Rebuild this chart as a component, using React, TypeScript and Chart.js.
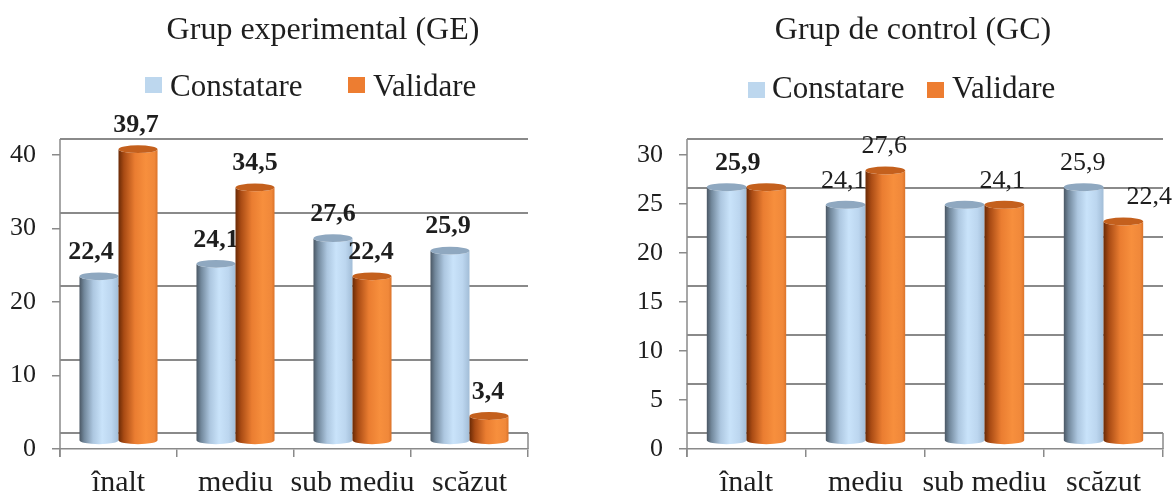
import React, { useEffect, useRef } from 'react';
import { Chart, registerables } from 'chart.js';

Chart.register(...registerables);

// ---------- data ----------
const categories = ['înalt', 'mediu', 'sub mediu', 'scăzut'];
const seriesNames = ['Constatare', 'Validare'];

const geTitle = 'Grup experimental (GE)';
const geConstatare = [22.4, 24.1, 27.6, 25.9];
const geValidare = [39.7, 34.5, 22.4, 3.4];
const geYMax = 40;
const geYStep = 10;

const gcTitle = 'Grup de control (GC)';
const gcConstatare = [25.9, 24.1, 24.1, 25.9];
const gcValidare = [25.9, 27.6, 24.1, 22.4];
const gcYMax = 30;
const gcYStep = 5;

// ---------- styling ----------
const FONT = "'Liberation Serif', 'Times New Roman', serif";
const TEXT = '#1e1e1e';
const GRID = '#8a8a8a';
const LEGEND_COLORS = ['#bdd7ee', '#ed7d31'];

const PALETTES = [
  {
    body: [
      [0, '#4a5764'],
      [0.12, '#72889c'],
      [0.35, '#adc7e0'],
      [0.58, '#c9e3fa'],
      [0.82, '#bcd6ef'],
      [1, '#a2bdd7'],
    ],
    top: '#8fa8c0',
  },
  {
    body: [
      [0, '#6a2a06'],
      [0.14, '#a94b14'],
      [0.42, '#ea7d31'],
      [0.7, '#f78f3d'],
      [0.92, '#f0883a'],
      [1, '#dc742a'],
    ],
    top: '#c4601d',
  },
];

const fmt = (v: number) => v.toFixed(1).replace('.', ',');

// 3D-like cylinders drawn over the library's bar elements
const cylinderPlugin = {
  id: 'cylinders',
  afterDatasetsDraw(chart: any, _args: any, opts: any) {
    const ctx = chart.ctx as CanvasRenderingContext2D;
    const lift = opts.lift;
    chart.data.datasets.forEach((_ds: any, di: number) => {
      const meta = chart.getDatasetMeta(di);
      const pal = PALETTES[di];
      meta.data.forEach((bar: any, i: number) => {
        const { x, y, base, width } = bar.getProps(['x', 'y', 'base', 'width'], true);
        const left = x - width / 2;
        const right = x + width / 2;
        const top = y - lift;
        const bot = base - lift;
        const ry = width * 0.1;
        const g = ctx.createLinearGradient(left, 0, right, 0);
        pal.body.forEach(([s, c]: any) => g.addColorStop(s, c));
        ctx.save();
        ctx.fillStyle = g;
        ctx.beginPath();
        ctx.moveTo(left, top);
        ctx.lineTo(left, bot);
        ctx.ellipse(x, bot, width / 2, ry, 0, Math.PI, 0, true);
        ctx.lineTo(right, top);
        ctx.ellipse(x, top, width / 2, ry, 0, 0, Math.PI, false);
        ctx.closePath();
        ctx.fill();
        // top cap
        ctx.fillStyle = pal.top;
        ctx.beginPath();
        ctx.ellipse(x, top, width / 2, ry, 0, 0, Math.PI * 2);
        ctx.fill();
        ctx.restore();

        // value label
        const lab = opts.labels;
        if (lab.show[di][i]) {
          const v = chart.data.datasets[di].data[i];
          ctx.save();
          ctx.font = `${lab.bold[di][i] ? 'bold ' : ''}26px ${FONT}`;
          ctx.fillStyle = TEXT;
          ctx.textAlign = 'center';
          ctx.textBaseline = 'middle';
          ctx.fillText(fmt(v), x + lab.dx[di][i], top - 24);
          ctx.restore();
        }
      });
    });
  },
};

// back wall gridlines (shifted for the 3D depth) and frame
const wallPlugin = {
  id: 'wall',
  beforeDatasetsDraw(chart: any, _args: any, opts: any) {
    const ctx = chart.ctx as CanvasRenderingContext2D;
    const ys = chart.scales.y;
    const { left, right } = chart.chartArea;
    const depth = opts.depth;
    ctx.save();
    ctx.strokeStyle = GRID;
    ctx.lineWidth = 2;
    ys.ticks.forEach((t: any) => {
      const py = Math.round(ys.getPixelForValue(t.value) - depth);
      ctx.beginPath();
      ctx.moveTo(left, py);
      ctx.lineTo(right, py);
      ctx.stroke();
    });
    const yTop = ys.getPixelForValue(ys.max) - depth;
    const y0 = ys.getPixelForValue(0);
    ctx.lineWidth = 1.5;
    ctx.beginPath();
    ctx.moveTo(left, yTop);
    ctx.lineTo(left, y0 + 8);
    ctx.stroke();
    ctx.beginPath();
    ctx.moveTo(right, y0 - depth);
    ctx.lineTo(right, y0);
    ctx.stroke();
    ctx.restore();
  },
};

// title and legend
const headerPlugin = {
  id: 'header',
  afterDraw(chart: any, _args: any, opts: any) {
    const ctx = chart.ctx as CanvasRenderingContext2D;
    ctx.save();
    ctx.fillStyle = TEXT;
    ctx.font = `32px ${FONT}`;
    ctx.textAlign = 'center';
    ctx.textBaseline = 'alphabetic';
    ctx.fillText(opts.title, opts.titleX, opts.titleY);
    ctx.font = `31px ${FONT}`;
    ctx.textAlign = 'left';
    opts.items.forEach((it: any, k: number) => {
      ctx.fillStyle = LEGEND_COLORS[k];
      ctx.fillRect(it.bx, opts.boxY, 17, 16);
      ctx.fillStyle = TEXT;
      ctx.fillText(seriesNames[k], it.tx, opts.textY);
    });
    ctx.restore();
  },
};

type PanelProps = {
  width: number;
  a: number[];
  b: number[];
  yMax: number;
  yStep: number;
  yWidth: number;
  padRight: number;
  header: any;
  labels: any;
};

function Panel(p: PanelProps) {
  const ref = useRef<HTMLCanvasElement>(null);
  useEffect(() => {
    const chart = new Chart(ref.current as HTMLCanvasElement, {
      type: 'bar',
      data: {
        labels: categories,
        datasets: [
          { label: seriesNames[0], data: p.a, backgroundColor: 'rgba(0,0,0,0)' },
          { label: seriesNames[1], data: p.b, backgroundColor: 'rgba(0,0,0,0)' },
        ],
      },
      options: {
        responsive: false,
        animation: false,
        devicePixelRatio: 1,
        datasets: { bar: { categoryPercentage: 0.667, barPercentage: 1 } },
        layout: { padding: { top: 155, right: p.padRight, left: 0, bottom: 0 } },
        scales: {
          x: {
            afterFit: (s: any) => {
              s.height = 46;
            },
            grid: {
              offset: true,
              drawOnChartArea: false,
              drawTicks: true,
              tickLength: 8,
              color: GRID,
              lineWidth: 1.5,
            },
            border: { display: true, color: GRID, width: 1.5 },
            ticks: {
              font: { family: FONT, size: 30 },
              color: TEXT,
              padding: 8,
              maxRotation: 0,
              autoSkip: false,
            },
          },
          y: {
            min: 0,
            max: p.yMax,
            afterFit: (s: any) => {
              s.width = p.yWidth;
            },
            grid: {
              drawOnChartArea: false,
              drawTicks: true,
              tickLength: 8,
              color: GRID,
              lineWidth: 1.5,
            },
            border: { display: false },
            ticks: {
              stepSize: p.yStep,
              font: { family: FONT, size: 26 },
              color: TEXT,
              padding: 16,
            },
          },
        },
        plugins: {
          legend: { display: false },
          title: { display: false },
          tooltip: { enabled: false },
          cylinders: { lift: 8, labels: p.labels },
          wall: { depth: 16 },
          header: p.header,
        } as any,
      },
      plugins: [wallPlugin, cylinderPlugin, headerPlugin],
    });
    return () => chart.destroy();
  }, []);
  return (
    <canvas
      ref={ref}
      width={p.width}
      height={495}
      style={{ display: 'block', width: p.width, height: 495 }}
    />
  );
}

export default function App() {
  return (
    <div
      style={{
        position: 'absolute',
        left: 0,
        top: 0,
        width: 1172,
        height: 495,
        display: 'flex',
        background: '#ffffff',
        overflow: 'hidden',
      }}
    >
      <Panel
        width={590}
        a={geConstatare}
        b={geValidare}
        yMax={geYMax}
        yStep={geYStep}
        yWidth={60}
        padRight={62}
        header={{
          title: geTitle,
          titleX: 323,
          titleY: 39,
          boxY: 77,
          textY: 96,
          items: [
            { bx: 145, tx: 170 },
            { bx: 348, tx: 373 },
          ],
        }}
        labels={{
          show: [
            [true, true, true, true],
            [true, true, true, true],
          ],
          bold: [
            [true, true, true, true],
            [true, true, true, true],
          ],
          dx: [
            [-8, 0, 0, -2],
            [-2, 0, -1, -1],
          ],
        }}
      />
      <Panel
        width={582}
        a={gcConstatare}
        b={gcValidare}
        yMax={gcYMax}
        yStep={gcYStep}
        yWidth={97}
        padRight={9}
        header={{
          title: gcTitle,
          titleX: 323,
          titleY: 39,
          boxY: 82,
          textY: 98,
          items: [
            { bx: 158, tx: 182 },
            { bx: 337, tx: 362 },
          ],
        }}
        labels={{
          show: [
            [true, true, false, true],
            [false, true, true, true],
          ],
          bold: [
            [true, false, false, false],
            [false, false, false, false],
          ],
          dx: [
            [11, -2, 0, -1],
            [0, -1, -2, 26],
          ],
        }}
      />
    </div>
  );
}
